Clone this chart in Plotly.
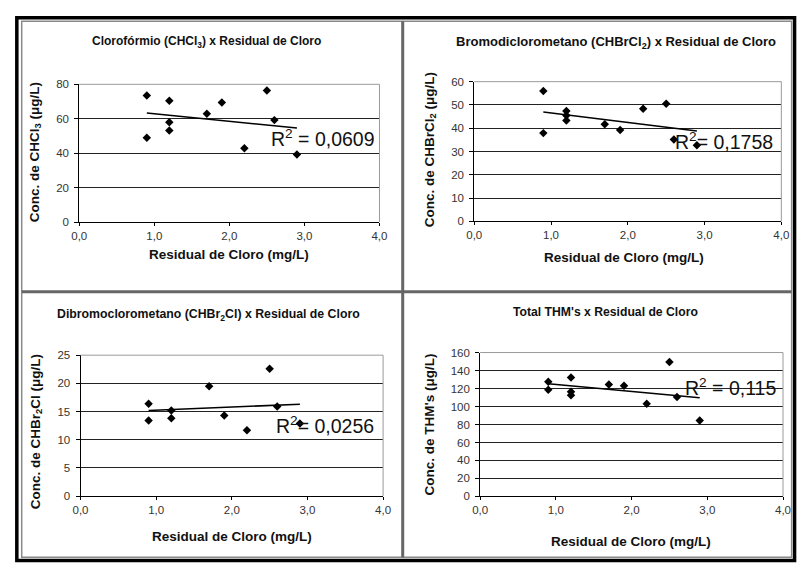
import plotly.graph_objects as go

W, H = 806, 569

# ---------------- data ----------------
x_chcl3 = [0.9, 0.9, 1.2, 1.2, 1.2, 1.7, 1.9, 2.2, 2.5, 2.6, 2.9]
y_chcl3 = [73.5, 49.0, 70.5, 58.0, 53.2, 62.9, 69.4, 42.9, 76.4, 59.2, 39.2]
trend_chcl3 = [63.3, 54.6]

x_chbrcl2 = [0.9, 0.9, 1.2, 1.2, 1.2, 1.7, 1.9, 2.2, 2.5, 2.6, 2.9]
y_chbrcl2 = [56.0, 37.9, 47.4, 45.5, 43.3, 41.7, 39.2, 48.4, 50.5, 35.2, 32.7]
trend_chbrcl2 = [47.0, 38.8]

x_chbr2cl = [0.9, 0.9, 1.2, 1.2, 1.7, 1.9, 2.2, 2.5, 2.6, 2.9]
y_chbr2cl = [16.4, 13.4, 15.2, 13.8, 19.5, 14.3, 11.7, 22.6, 15.9, 12.9]
trend_chbr2cl = [15.2, 16.3]

x_thm = [0.9, 0.9, 1.2, 1.2, 1.2, 1.7, 1.9, 2.2, 2.5, 2.6, 2.9]
y_thm = [127.5, 118.5, 132.3, 116.5, 112.5, 124.5, 123.0, 103.0, 149.5, 110.5, 84.5]
trend_thm = [125.3, 109.8]

trend_x = [0.9, 2.9]
x_ticks = [0, 1, 2, 3, 4]

titles = [
    "Clorofórmio (CHCl<sub>3</sub>) x Residual de Cloro",
    "Bromodiclorometano (CHBrCl<sub>2</sub>) x Residual de Cloro",
    "Dibromoclorometano (CHBr<sub>2</sub>Cl) x Residual de Cloro",
    "Total THM's x Residual de Cloro",
]
y_titles = [
    "Conc. de CHCl<sub>3</sub> (μg/L)",
    "Conc. de CHBrCl<sub>2</sub> (μg/L)",
    "Conc. de CHBr<sub>2</sub>Cl (μg/L)",
    "Conc. de THM's (μg/L)",
]
x_title = "Residual de Cloro (mg/L)"
r2_texts = ["R<sup>2</sup> = 0,0609", "R<sup>2</sup>= 0,1758", "R<sup>2</sup>= 0,0256", "R<sup>2</sup> = 0,115"]
y_max = [80, 60, 25, 160]
y_dtick = [20, 10, 5, 20]

# ---------------- layout geometry (pixels) ----------------
# plot areas: (left, right, top, bottom)
areas = [
    (72.7, 379.0, 80.0, 220.7),
    (475.7, 789.0, 77.3, 220.0),
    (74.0, 382.7, 356.7, 500.7),
    (481.7, 790.7, 354.0, 501.0),
]
title_pos = [(203, 37, 12), (620, 37, 13), (205, 316, 12.3), (610, 313, 12.2)]
ytitle_pos = [(28, 149), (431, 147), (29, 435), (431, 427)]
xtitle_pos = [(225, 254), (628, 257), (229, 542), (636, 547)]
r2_pos = [(321, 135), (730, 138), (323, 428), (737, 389)]
AX_TITLE_SIZE = 13.5

FONT = "Liberation Sans, Arial, sans-serif"


def px(x):
    return x / W


def py(y):
    return 1 - y / H


fig = go.Figure()
series = [
    (x_chcl3, y_chcl3, trend_chcl3),
    (x_chbrcl2, y_chbrcl2, trend_chbrcl2),
    (x_chbr2cl, y_chbr2cl, trend_chbr2cl),
    (x_thm, y_thm, trend_thm),
]

annotations = []
shapes = []
for i, (xs, ys, tr) in enumerate(series):
    n = "" if i == 0 else str(i + 1)
    xa, ya = "x" + n, "y" + n
    fig.add_trace(go.Scatter(x=trend_x, y=tr, mode="lines", xaxis=xa, yaxis=ya,
                             line=dict(color="black", width=1.6),
                             showlegend=False, hoverinfo="skip"))
    fig.add_trace(go.Scatter(x=xs, y=ys, mode="markers", xaxis=xa, yaxis=ya,
                             marker=dict(symbol="diamond", size=6.5, color="black"),
                             showlegend=False, hoverinfo="skip"))
    l, r, t, b = areas[i]
    fig.update_layout({
        "xaxis" + n: dict(domain=[px(l), px(r)], range=[0, 4], tickvals=x_ticks,
                          tickformat=".1f", showline=True, linecolor="black", linewidth=1,
                          ticks="outside", ticklen=3, tickcolor="black", showgrid=False,
                          zeroline=False, anchor=ya, fixedrange=True,
                          tickfont=dict(family=FONT, size=11.5, color="#333")),
        "yaxis" + n: dict(domain=[py(b), py(t)], range=[0, y_max[i]], dtick=y_dtick[i],
                          showline=True, linecolor="black", linewidth=1,
                          ticks="outside", ticklen=4, tickcolor="black", ticklabelstandoff=3,
                          showgrid=True, gridcolor="#222", gridwidth=1,
                          zeroline=False, anchor=xa, fixedrange=True,
                          tickfont=dict(family=FONT, size=11.5, color="#333")),
    })
    # plot-area border (top and right), gray
    shapes.append(dict(type="line", xref=xa + " domain", yref=ya + " domain",
                       x0=0, x1=1, y0=1, y1=1, line=dict(color="#9a9a9a", width=1), layer="above"))
    shapes.append(dict(type="line", xref=xa + " domain", yref=ya + " domain",
                       x0=1, x1=1, y0=0, y1=1, line=dict(color="#9a9a9a", width=1), layer="above"))

    tx, ty, ts = title_pos[i]
    annotations.append(dict(text="<b>" + titles[i] + "</b>", x=px(tx), y=py(ty), xref="paper",
                            yref="paper", showarrow=False, xanchor="center", yanchor="middle",
                            font=dict(family=FONT, size=ts, color="#111")))
    yx, yy = ytitle_pos[i]
    annotations.append(dict(text="<b>" + y_titles[i] + "</b>", x=px(yx), y=py(yy), xref="paper",
                            yref="paper", showarrow=False, textangle=-90, xanchor="center",
                            yanchor="middle", font=dict(family=FONT, size=AX_TITLE_SIZE, color="#111")))
    xx, xy = xtitle_pos[i]
    annotations.append(dict(text="<b>" + x_title + "</b>", x=px(xx), y=py(xy), xref="paper",
                            yref="paper", showarrow=False, xanchor="center", yanchor="middle",
                            font=dict(family=FONT, size=AX_TITLE_SIZE, color="#111")))
    rx, ry = r2_pos[i]
    annotations.append(dict(text=r2_texts[i], x=px(rx), y=py(ry), xref="paper",
                            yref="paper", showarrow=False, xanchor="center", yanchor="middle",
                            font=dict(family=FONT, size=19.5, color="#111")))

# outer double frame and panel dividers
shapes += [
    dict(type="rect", xref="paper", yref="paper", x0=px(9), x1=px(802.5), y0=py(566.5), y1=py(12),
         line=dict(color="black", width=3.5), layer="above"),
    dict(type="rect", xref="paper", yref="paper", x0=px(14), x1=px(799.5), y0=py(563), y1=py(15.5),
         line=dict(color="#8a8a8a", width=1.5), layer="above"),
    dict(type="line", xref="paper", yref="paper", x0=px(402.7), x1=px(402.7), y0=py(563), y1=py(15.5),
         line=dict(color="#666", width=3), layer="above"),
    dict(type="line", xref="paper", yref="paper", x0=px(14), x1=px(799.5), y0=py(292), y1=py(292),
         line=dict(color="#666", width=3), layer="above"),
]

fig.update_layout(width=W, height=H, margin=dict(l=0, r=0, t=0, b=0),
                  paper_bgcolor="white", plot_bgcolor="white", separators=", ",
                  annotations=annotations, shapes=shapes, showlegend=False,
                  font=dict(family=FONT, size=11, color="#333"))

fig.write_html("out.html", config={"displayModeBar": False})
